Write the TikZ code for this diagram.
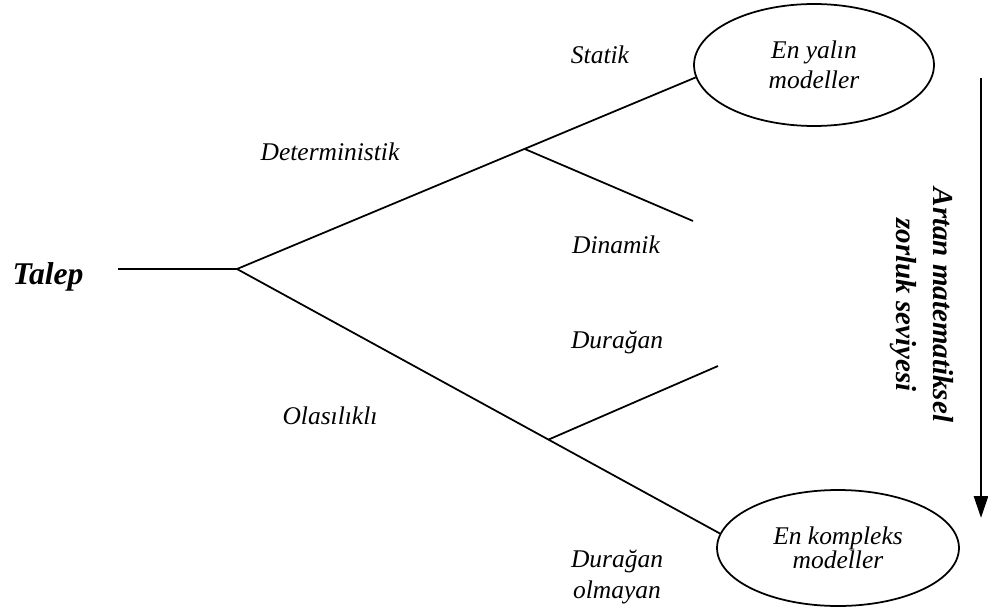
\documentclass[tikz,border=0pt]{standalone}
\usepackage{fontspec}
\setmainfont{Liberation Serif}
\usetikzlibrary{shapes.geometric,arrows.meta}

\begin{document}
\begin{tikzpicture}[x=0.02cm,y=-0.02cm,
  lbl/.style={font=\fontsize{14.5}{18}\selectfont\itshape, inner sep=0pt},
  model/.style={ellipse, draw, line width=1pt, inner sep=2pt, align=center},
  branch/.style={line width=1pt}]
  \useasboundingbox (0,0) rectangle (988,612);
  % ana dal
  \node[font=\fontsize{18}{21}\selectfont\bfseries\itshape, anchor=base, inner sep=0pt] (talep) at (48,284) {Talep};
  \coordinate (tin) at (118,269);
  \coordinate (root) at (237,269);
  \node[model, minimum width=4.8cm, minimum height=2.44cm, font=\fontsize{14.5}{17}\selectfont\itshape] (yalin) at (814,65) {En yalın\\modeller};
  \node[model, minimum width=4.84cm, minimum height=2.32cm, font=\fontsize{14.5}{13.5}\selectfont\itshape] (kompleks) at (838,548) {En kompleks\\modeller};
  \coordinate (dinend) at (693,221);
  \coordinate (durend) at (718,366);
  \draw[branch] (tin) -- (root);
  \draw[branch] (root) -- coordinate[pos=0.627] (bdet) (yalin.186);
  \draw[branch] (root) -- coordinate[pos=0.645] (bola) (kompleks.173);
  \draw[branch] (bdet) -- (dinend);
  \draw[branch] (bola) -- (durend);
  % etiketler
  \node[lbl, anchor=base] (det) at (330,160) {Deterministik};
  \node[lbl, anchor=base] (ola) at (330,424) {Olasılıklı};
  \node[lbl, anchor=base] (stat) at (600,63) {Statik};
  \node[lbl, anchor=base] (din) at (616,253) {Dinamik};
  \node[lbl, anchor=base] (dur) at (617,348) {Durağan};
  \node[lbl, align=center] (durol) at (617,577) {Durağan\\olmayan};
  % zorluk oku
  \coordinate (atop) at (981,78);
  \coordinate (abot) at (981,518);
  \draw[line width=1.6pt, -{Triangle[length=4.4mm,width=2.8mm]}] (atop) -- (abot);
  \node[rotate=-90, align=center, inner sep=0pt, font=\fontsize{16.5}{21}\selectfont\bfseries\itshape] (zorluk) at (922,305) {Artan matematiksel\\zorluk seviyesi};
\end{tikzpicture}
\end{document}
